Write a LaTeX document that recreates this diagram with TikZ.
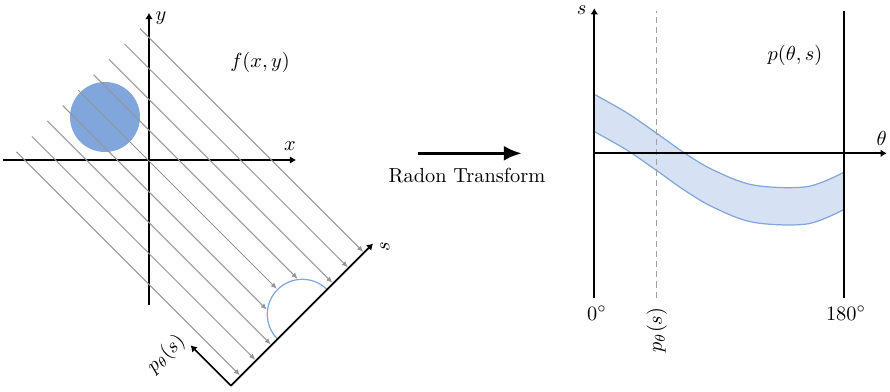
\documentclass[tikz,border=0pt]{standalone}
\usetikzlibrary{arrows.meta,calc}
\definecolor{blobblue}{RGB}{128,166,220}
\definecolor{bandfill}{RGB}{214,226,244}
\definecolor{raygray}{RGB}{150,150,150}
\begin{document}
\begin{tikzpicture}[x=0.4914pt,y=0.4914pt,
  axis/.style={line width=0.8pt,-{Latex[length=3pt,width=3.8pt]}},
  plainaxis/.style={line width=0.8pt},
  ray/.style={draw=raygray,line width=0.5pt,-{Latex[length=3pt,width=2.6pt]}},
  blueline/.style={draw=blobblue,line width=0.6pt},
  lbl/.style={inner sep=1pt}]
\useasboundingbox (0,0) rectangle (890,391);
% ---------- left panel ----------
\fill[blobblue] (105,274) circle[radius=35];
\coordinate (xl) at (3,231); \coordinate (xr) at (296,231);
\coordinate (yb) at (149,86); \coordinate (yt) at (149,378);
\draw[axis] (xl) -- (xr);
\draw[axis] (yb) -- (yt);
\node[lbl] (ylab) at (161,373) {$y$};
\node[lbl] (xlab) at (290,245) {$x$};
\node[lbl] (flab) at (260,329) {$f(x,y)$};
\begin{scope}[shift={(302.3,76.7)},rotate=45]
  \coordinate (O) at (-101,0);
  \coordinate (S) at (100,0);
  \coordinate (P) at (-101,57);
  \foreach \k in {0,...,8}{
    \pgfmathsetmacro{\u}{87.2-21.8*\k}
    \pgfmathsetmacro{\v}{abs(\u)<35 ? sqrt(max(0,35*35-\u*\u))+1 : 1}
    \coordinate (rs\k) at (\u,317);
    \coordinate (re\k) at (\u,\v);
    \draw[ray] (rs\k) -- (re\k);
  }
  \draw[blueline] (35,0) arc[start angle=0,end angle=180,radius=35];
  \draw[axis] (O) -- (S);
  \draw[axis] (O) -- (P);
\end{scope}
\node[lbl,rotate=90] (slab) at (385,144) {$s$};
\node[lbl,rotate=45] (plab) at (166,37) {$p_\theta(s)$};
% ---------- middle ----------
\coordinate (ma) at (417.7,237.7); \coordinate (mb) at (521.7,237.7);
\draw[line width=1.5pt,-{Latex[length=8.8pt,width=7.4pt]}] (ma) -- (mb);
\node[lbl] (radon) at (467,215) {Radon Transform};
% ---------- right panel ----------
\def\uppercurve{(594.3,296.7) (626.7,278.3) (656.7,257.7) (685,237.7) (713.3,221) (753.3,206) (806.7,204.3) (843.7,218.7)}
\def\lowercurve{(594.3,259.4) (626.7,241) (656.7,220.4) (685,200.4) (713.3,183.7) (753.3,168.7) (806.7,167) (843.7,181.4)}
\def\lowerrev{(843.7,181.4) (806.7,167) (753.3,168.7) (713.3,183.7) (685,200.4) (656.7,220.4) (626.7,241) (594.3,259.4)}
\fill[bandfill] plot[smooth,tension=0.55] coordinates {\uppercurve}
  -- plot[smooth,tension=0.55] coordinates {\lowerrev} -- cycle;
\draw[blueline] plot[smooth,tension=0.55] coordinates {\uppercurve};
\draw[blueline] plot[smooth,tension=0.55] coordinates {\lowercurve};
\coordinate (db) at (656.7,93.3); \coordinate (dt) at (656.7,380.3);
\draw[raygray!90,line width=0.6pt,dashed,dash pattern=on 3pt off 2pt] (db) -- (dt);
\coordinate (tl) at (594.3,237.7); \coordinate (tr) at (886.7,237.7);
\coordinate (sb) at (594.3,93.3); \coordinate (st) at (594.3,382.7);
\coordinate (rb) at (843.7,93.3); \coordinate (rt) at (843.7,380.3);
\draw[axis] (tl) -- (tr);
\draw[axis] (sb) -- (st);
\draw[plainaxis] (rb) -- (rt);
\node[lbl] (s2lab) at (581.7,381) {$s$};
\node[lbl] (thlab) at (881.7,252.7) {$\theta$};
\node[lbl] (zero) at (597,77.7) {$0^\circ$};
\node[lbl] (oneeighty) at (846,77.7) {$180^\circ$};
\node[lbl,rotate=90] (p2lab) at (656.7,61) {$p_\theta(s)$};
\node[lbl] (plab2) at (795,336) {$p(\theta,s)$};
\end{tikzpicture}
\end{document}
